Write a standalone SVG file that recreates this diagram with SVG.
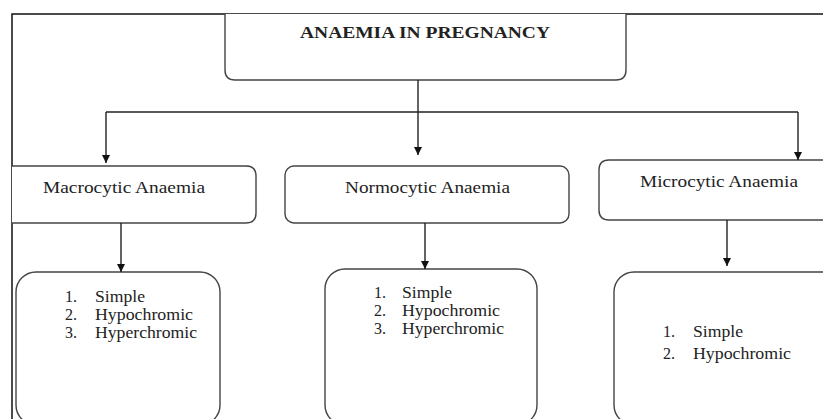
<svg xmlns="http://www.w3.org/2000/svg" width="823" height="419" viewBox="0 0 823 419">
<defs>
<style>
.frame{fill:none;stroke:#111;stroke-width:1.5}
.box{fill:#fff;stroke:#444;stroke-width:1.4}
.conn{fill:none;stroke:#222;stroke-width:1.4}
.t{font-family:"Liberation Serif","Times New Roman",serif;fill:#222}
.title{font-size:16px;font-weight:bold}
.hd{font-size:16.5px}
.li{font-size:16px}
</style>
<marker id="ah" viewBox="0 0 10 10" refX="10" refY="5" markerWidth="8" markerHeight="8" markerUnits="userSpaceOnUse" orient="auto">
<path d="M0,0 L10,5 L0,10 z" fill="#111"/>
</marker>
</defs>
<rect x="0" y="0" width="823" height="419" fill="#fff"/>
<path class="frame" d="M12,419 V14 H823"/>
<g id="root">
<path class="box" d="M225,14 V70 Q225,80 235,80 H616 Q626,80 626,70 V14"/>
<text class="t title" x="300" y="38" textLength="250" lengthAdjust="spacingAndGlyphs">ANAEMIA IN PREGNANCY</text>
</g>
<g id="macro">
<path class="box" d="M12,166 H246 Q256,166 256,176 V213 Q256,223 246,223 H12"/>
<text class="t hd" x="43" y="193" textLength="162" lengthAdjust="spacingAndGlyphs">Macrocytic Anaemia</text>
</g>
<g id="normo">
<rect class="box" x="285" y="166" width="284" height="57" rx="9"/>
<text class="t hd" x="345" y="193" textLength="165" lengthAdjust="spacingAndGlyphs">Normocytic Anaemia</text>
</g>
<g id="micro">
<path class="box" d="M823,160 H609 Q599,160 599,170 V210 Q599,220 609,220 H823"/>
<text class="t hd" x="640" y="187" textLength="158" lengthAdjust="spacingAndGlyphs">Microcytic Anaemia</text>
</g>
<g id="macro-types">
<rect class="box" x="16" y="272" width="204" height="153" rx="20"/>
<text class="t li" x="65" y="302">1.</text><text class="t li" x="95" y="302" textLength="50" lengthAdjust="spacingAndGlyphs">Simple</text>
<text class="t li" x="65" y="320">2.</text><text class="t li" x="95" y="320" textLength="98" lengthAdjust="spacingAndGlyphs">Hypochromic</text>
<text class="t li" x="65" y="338">3.</text><text class="t li" x="95" y="338" textLength="102" lengthAdjust="spacingAndGlyphs">Hyperchromic</text>
</g>
<g id="normo-types">
<rect class="box" x="325" y="269" width="212" height="156" rx="20"/>
<text class="t li" x="374" y="298">1.</text><text class="t li" x="402" y="298" textLength="50" lengthAdjust="spacingAndGlyphs">Simple</text>
<text class="t li" x="374" y="316">2.</text><text class="t li" x="402" y="316" textLength="98" lengthAdjust="spacingAndGlyphs">Hypochromic</text>
<text class="t li" x="374" y="334">3.</text><text class="t li" x="402" y="334" textLength="102" lengthAdjust="spacingAndGlyphs">Hyperchromic</text>
</g>
<g id="micro-types">
<rect class="box" x="614" y="272" width="240" height="153" rx="20"/>
<text class="t li" x="663" y="337">1.</text><text class="t li" x="693" y="337" textLength="50" lengthAdjust="spacingAndGlyphs">Simple</text>
<text class="t li" x="663" y="359">2.</text><text class="t li" x="693" y="359" textLength="98" lengthAdjust="spacingAndGlyphs">Hypochromic</text>
</g>
<g id="connectors">
<path class="conn" d="M418,80 V155" marker-end="url(#ah)"/>
<path class="conn" d="M106,112 H798"/>
<path class="conn" d="M106,112 V163" marker-end="url(#ah)"/>
<path class="conn" d="M798,112 V160" marker-end="url(#ah)"/>
<path class="conn" d="M121,223 V272" marker-end="url(#ah)"/>
<path class="conn" d="M425,223 V269" marker-end="url(#ah)"/>
<path class="conn" d="M727,220 V266" marker-end="url(#ah)"/>
</g>
</svg>
